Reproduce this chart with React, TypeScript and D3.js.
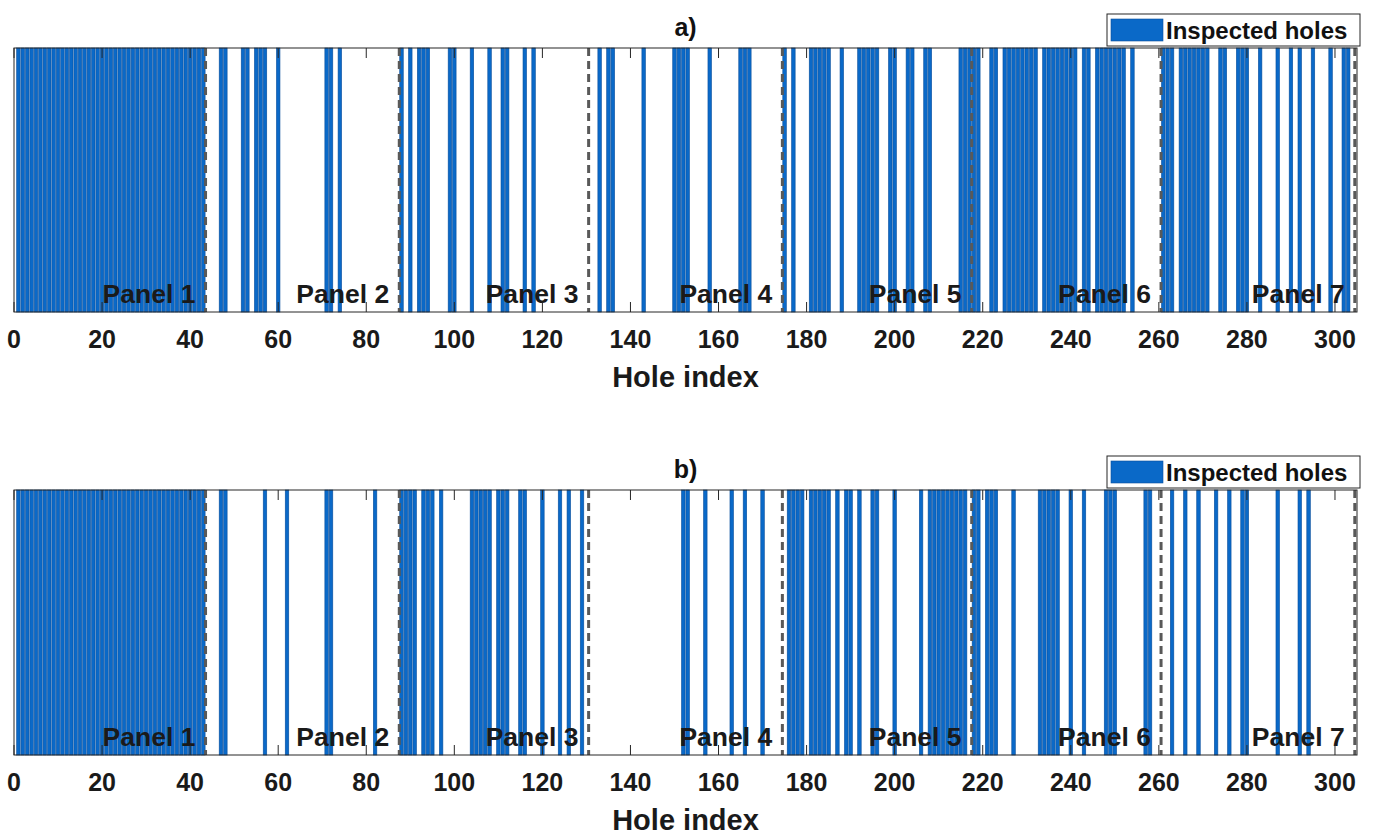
import React from "react";
import * as d3 from "d3";

const holesA = [
  1, 2, 3, 4, 5, 6, 7, 8, 9, 10, 11, 12, 13, 14, 15, 16, 17, 18, 19, 20, 21, 22,
  23, 24, 25, 26, 27, 28, 29, 30, 31, 32, 33, 34, 35, 36, 37, 38, 39, 40, 41, 42, 43,
  47, 48, 52, 53, 55, 56, 57, 60, 71, 72, 74,
  88, 90, 92, 93, 94, 99, 100, 104, 108, 111, 112, 116, 118,
  133, 135, 136, 143, 150, 151, 152, 153, 158, 165, 166, 167,
  175, 177, 181, 182, 183, 184, 185, 188, 192, 193, 194, 195, 196, 199, 200, 203,
  204, 207, 208, 215, 216, 217,
  218, 219, 222, 223, 225, 226, 227, 228, 229, 230, 231, 232, 234, 235, 236, 237,
  238, 239, 240, 241, 243, 244, 246, 247, 248, 249, 250, 251, 252, 254,
  261, 262, 263, 265, 266, 267, 268, 269, 270, 271, 274, 275, 278, 279, 280, 283,
  287, 290, 292, 295, 299, 302, 303,
];

const holesB = [
  1, 2, 3, 4, 5, 6, 7, 8, 9, 10, 11, 12, 13, 14, 15, 16, 17, 18, 19, 20, 21, 22,
  23, 24, 25, 26, 27, 28, 29, 30, 31, 32, 33, 34, 35, 36, 37, 38, 39, 40, 41, 42, 43,
  47, 48, 57, 62, 71, 72, 82,
  88, 89, 90, 91, 93, 94, 95, 97, 104, 105, 106, 107, 108, 110, 111, 112, 115, 116,
  120, 124, 126, 129,
  152, 153, 157, 163, 166, 170,
  176, 177, 178, 179, 181, 182, 183, 184, 185, 187, 189, 190, 192, 195, 196, 200,
  206, 208, 209, 210, 211, 212, 213, 214, 215, 216,
  218, 219, 221, 222, 223, 227, 233, 234, 235, 236, 237, 240, 243, 248, 249, 250,
  257, 258,
  263, 266, 269, 273, 276, 279, 280, 287, 292, 294,
];

const panelEdges = [43.5, 87.5, 130.5, 174.5, 217.5, 260.5, 304.5];
const panelNames = ["Panel 1", "Panel 2", "Panel 3", "Panel 4", "Panel 5", "Panel 6", "Panel 7"];
const xTicks = [0, 20, 40, 60, 80, 100, 120, 140, 160, 180, 200, 220, 240, 260, 280, 300];

const W = 1375;
const H = 837;
const LEFT = 14;
const RIGHT = 1357;
const BAR_FILL = "#0a69c8";
const BAR_EDGE = "#0a4f9c";
const AXIS = "#262626";
const FONT = "'Liberation Sans', Arial, Helvetica, sans-serif";

const x = d3.scaleLinear().domain([0, 305]).range([LEFT, RIGHT]);

function HolePanel({ holes, title, top, bottom }) {
  const y = d3.scaleLinear().domain([0, 1]).range([bottom, top]);
  const bw = x(0.8) - x(0);
  return (
    <g>
      <text x={(LEFT + RIGHT) / 2} y={top - 12} textAnchor="middle" fontSize={25} fontWeight="bold" fill="#111">
        {title}
      </text>
      {holes.map((h) => (
        <rect
          key={h}
          x={x(h) - bw / 2}
          y={y(1)}
          width={bw}
          height={y(0) - y(1)}
          fill={BAR_FILL}
          stroke={BAR_EDGE}
          strokeWidth={0.6}
        />
      ))}
      {panelEdges.map((e) => (
        <line key={e} x1={x(e)} x2={x(e)} y1={y(1)} y2={y(0)} stroke="#595959" strokeWidth={3} strokeDasharray="8,5" />
      ))}
      {panelNames.map((name, i) => (
        <text key={name} x={x(panelEdges[i] - 2.3)} y={bottom - 9} textAnchor="end" fontSize={26.5} fontWeight="bold" fill="#1a1a1a">
          {name}
        </text>
      ))}
      {/* box */}
      <rect x={LEFT} y={top} width={RIGHT - LEFT} height={bottom - top} fill="none" stroke={AXIS} strokeWidth={1} />
      {xTicks.map((t) => (
        <g key={t}>
          <line x1={x(t)} x2={x(t)} y1={bottom} y2={bottom - 10} stroke={AXIS} strokeWidth={1} />
          <line x1={x(t)} x2={x(t)} y1={top} y2={top + 10} stroke={AXIS} strokeWidth={1} />
          <text x={x(t)} y={bottom + 36} textAnchor="middle" fontSize={25} fontWeight="bold" fill="#1a1a1a">
            {t}
          </text>
        </g>
      ))}
      <text x={(LEFT + RIGHT) / 2} y={bottom + 75} textAnchor="middle" fontSize={29} fontWeight="bold" fill="#1a1a1a">
        Hole index
      </text>
      {/* legend */}
      <g transform={`translate(1107,${top - 34})`}>
        <rect x={0} y={0} width={253} height={32} fill="#fff" stroke={AXIS} strokeWidth={1} />
        <rect x={4} y={5} width={52} height={22} fill={BAR_FILL} stroke={BAR_EDGE} strokeWidth={0.6} />
        <text x={59} y={25} fontSize={24} fontWeight="bold" fill="#111">
          Inspected holes
        </text>
      </g>
    </g>
  );
}

export default function App() {
  return (
    <div style={{ position: "absolute", left: 0, top: 0, width: W, height: H, background: "#fff" }}>
      <svg width={W} height={H} style={{ display: "block", fontFamily: FONT }}>
        <rect width={W} height={H} fill="#fff" />
        <HolePanel holes={holesA} title="a)" top={48} bottom={312} />
        <HolePanel holes={holesB} title="b)" top={490} bottom={755} />
      </svg>
    </div>
  );
}
